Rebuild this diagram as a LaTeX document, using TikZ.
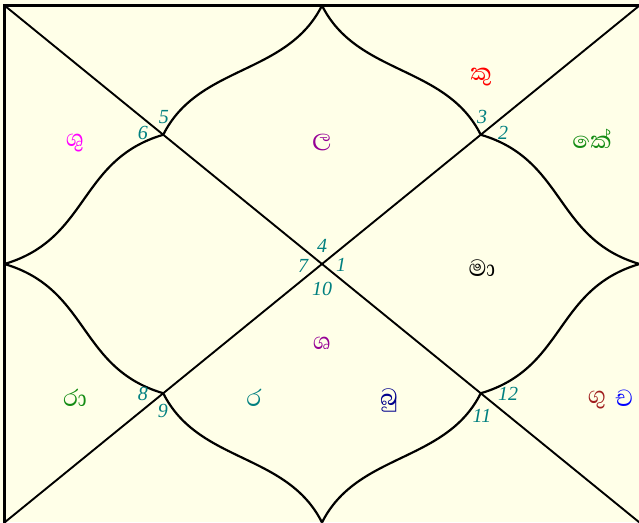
\documentclass[tikz,border=0pt]{standalone}
\usepackage{fontspec}
\setmainfont{Liberation Serif}
\newfontfamily\sinhfont[Script=Sinhala]{Abhaya Libre}
\definecolor{bgc}{RGB}{255,255,232}
\definecolor{numc}{RGB}{0,128,128}
\definecolor{cred}{RGB}{255,0,0}
\definecolor{cgreen}{RGB}{20,140,20}
\definecolor{cmag}{RGB}{255,0,255}
\definecolor{cpur}{RGB}{150,0,150}
\definecolor{cnavy}{RGB}{0,0,140}
\definecolor{cbrown}{RGB}{160,30,30}
\definecolor{cblue}{RGB}{0,0,255}
\tikzset{
  num/.style={text=numc,font=\itshape\fontsize{20}{20}\selectfont,inner sep=0pt},
  pl/.style={font=\sinhfont\fontsize{30}{30}\selectfont,inner sep=0pt},
  curve/.style={line width=2.2pt,line join=round},
  diag/.style={line width=1.9pt}
}
\begin{document}
\begin{tikzpicture}[x=1pt,y=1pt]
\useasboundingbox (-322,-258) rectangle (317,264);
\fill[bgc] (-322,-258) rectangle (317,264);
\begin{scope}
\clip (-322,-258) rectangle (317,264);
\coordinate (tl) at (-317.5,258.5);
\coordinate (br) at (317.5,-258.5);
\coordinate (tr) at (317.5,258.5);
\coordinate (bl) at (-317.5,-258.5);
\draw[line width=3pt] (tr) -- (tl) -- (bl);
\draw[diag] (tl) -- (br);
\draw[diag] (tr) -- (bl);
\foreach \sx/\sy in {1/1,-1/1,1/-1,-1/-1}{
  \begin{scope}[xscale=\sx,yscale=\sy]
    \draw[curve] (0,258.5) .. controls (-35,188.5) and (-123.75,199.25) .. (-158.75,129.25)
      .. controls (-243.75,104.25) and (-232.5,25) .. (-317.5,0);
  \end{scope}
}
\end{scope}
% house numbers
\node[num] (n1) at (19,-1) {1};
\node[num] (n2) at (181,131) {2};
\node[num] (n3) at (160,147) {3};
\node[num] (n4) at (0,18) {4};
\node[num] (n5) at (-158,147) {5};
\node[num] (n6) at (-179,131) {6};
\node[num] (n7) at (-19,-2) {7};
\node[num] (n8) at (-179,-130) {8};
\node[num] (n9) at (-159,-147) {9};
\node[num] (n10) at (0,-25) {10};
\node[num] (n11) at (160,-152) {11};
\node[num] (n12) at (186,-130) {12};
% planets
\node[pl,text=cred] (ku) at (159,187) {කු};
\node[pl,text=cgreen] (ke) at (270,125) {කේ};
\node[pl,text=cmag] (shu) at (-247,121) {ශු};
\node[pl,text=cpur] (la) at (0,121) {ල};
\node[pl,text=black] (ma) at (160,-4) {මා};
\node[pl,text=cpur] (sha) at (0,-79) {ශ};
\node[pl,text=cgreen] (ra) at (-247,-134) {රා};
\node[pl,text=numc] (ravi) at (-68,-134) {ර};
\node[pl,text=cnavy] (bu) at (67,-136) {බු};
\node[pl,text=cbrown] (gu) at (275,-136) {ගු};
\node[pl,text=cblue] (cha) at (302,-134) {ච};
\end{tikzpicture}
\end{document}
